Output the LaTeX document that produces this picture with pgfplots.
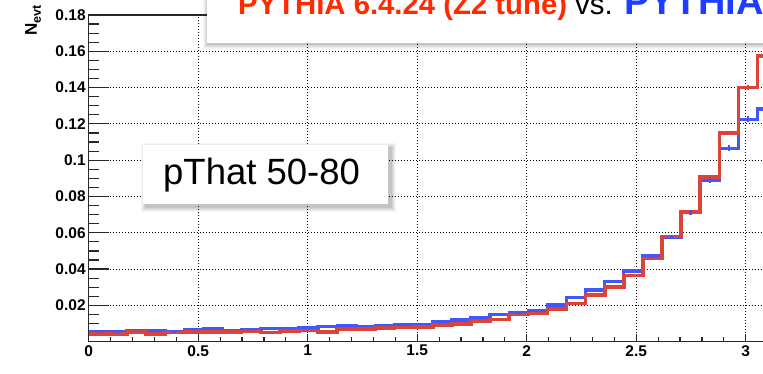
\documentclass[border=0pt]{standalone}
\usepackage{pgfplots}
\pgfplotsset{compat=1.18}
\usepackage{pgfplotstable}
\usepackage{fontspec}
\setmainfont{Liberation Sans}

\definecolor{histblue}{RGB}{66,86,252}
\definecolor{histred}{RGB}{220,68,58}
\definecolor{titlered}{RGB}{255,42,0}
\definecolor{titleblue}{RGB}{30,62,255}
\definecolor{framegray}{RGB}{40,40,40}

% Lambda distribution, 36 bins of width pi/36: left bin edge, blue and red contents
\pgfplotstableread{
x        b       r
0.00000  0.0055  0.0042
0.08727  0.0055  0.0042
0.17453  0.0063  0.0053
0.26180  0.0063  0.0042
0.34907  0.0055  0.0050
0.43633  0.0064  0.0052
0.52360  0.0070  0.0052
0.61087  0.0059  0.0052
0.69813  0.0064  0.0057
0.78540  0.0074  0.0050
0.87266  0.0074  0.0059
0.95993  0.0077  0.0061
1.04720  0.0083  0.0055
1.13446  0.0090  0.0069
1.22173  0.0085  0.0070
1.30900  0.0088  0.0074
1.39626  0.0092  0.0078
1.48353  0.0095  0.0080
1.57080  0.0110  0.0092
1.65806  0.0120  0.0097
1.74533  0.0134  0.0114
1.83260  0.0151  0.0123
1.91986  0.0161  0.0149
2.00713  0.0173  0.0155
2.09440  0.0202  0.0181
2.18166  0.0245  0.0211
2.26893  0.0285  0.0257
2.35619  0.0331  0.0303
2.44346  0.0390  0.0364
2.53073  0.0473  0.0458
2.61799  0.0577  0.0580
2.70526  0.0710  0.0716
2.79253  0.0891  0.0909
2.87979  0.1066  0.1150
2.96706  0.1225  0.1400
3.05433  0.1282  0.1574
3.14159  0.1282  0.1574
}\histdata

% bin centres with statistical errors
\pgfplotstableread{
xc       b       be      r       re
0.04363  0.0055  0.0003  0.0042  0.0003
0.13090  0.0055  0.0003  0.0042  0.0003
0.21817  0.0063  0.0003  0.0053  0.0003
0.30543  0.0063  0.0003  0.0042  0.0003
0.39270  0.0055  0.0003  0.0050  0.0003
0.47997  0.0064  0.0003  0.0052  0.0003
0.56723  0.0070  0.0003  0.0052  0.0003
0.65450  0.0059  0.0003  0.0052  0.0003
0.74176  0.0064  0.0003  0.0057  0.0003
0.82903  0.0074  0.0003  0.0050  0.0003
0.91630  0.0074  0.0003  0.0059  0.0003
1.00356  0.0077  0.0003  0.0061  0.0003
1.09083  0.0083  0.0003  0.0055  0.0003
1.17810  0.0090  0.0003  0.0069  0.0003
1.26536  0.0085  0.0003  0.0070  0.0003
1.35263  0.0088  0.0003  0.0074  0.0003
1.43990  0.0092  0.0004  0.0078  0.0003
1.52716  0.0095  0.0004  0.0080  0.0003
1.61443  0.0110  0.0004  0.0092  0.0004
1.70170  0.0120  0.0004  0.0097  0.0004
1.78896  0.0134  0.0005  0.0114  0.0004
1.87623  0.0151  0.0005  0.0123  0.0004
1.96350  0.0161  0.0006  0.0149  0.0005
2.05076  0.0173  0.0006  0.0155  0.0005
2.13803  0.0202  0.0007  0.0181  0.0005
2.22529  0.0245  0.0008  0.0211  0.0006
2.31256  0.0285  0.0008  0.0257  0.0006
2.39983  0.0331  0.0009  0.0303  0.0007
2.48709  0.0390  0.0010  0.0364  0.0007
2.57436  0.0473  0.0011  0.0458  0.0008
2.66163  0.0577  0.0012  0.0580  0.0009
2.74889  0.0710  0.0013  0.0716  0.0010
2.83616  0.0891  0.0015  0.0909  0.0011
2.92343  0.1066  0.0017  0.1150  0.0012
3.01069  0.1225  0.0016  0.1400  0.0013
3.09796  0.1282  0.0016  0.1574  0.0014
}\errdata

\begin{document}
\begin{tikzpicture}[x=1pt,y=1pt]
\useasboundingbox (0,0) rectangle (763,374);
\clip (0,0) rectangle (763,374);

% main frame, grid, y ticks and all tick labels
\begin{axis}[
  at={(88.7pt,32.3pt)}, anchor=south west,
  scale only axis, width=700.8pt, height=326.7pt,
  xmin=0, xmax=3.2, ymin=0, ymax=0.18,
  xtick={0,0.5,1,1.5,2,2.5,3},
  xticklabels={0,0.5,1,1.5,2,2.5,3},
  ytick={0,0.02,0.04,0.06,0.08,0.1,0.12,0.14,0.16,0.18},
  yticklabels={,0.02,0.04,0.06,0.08,0.1,0.12,0.14,0.16,0.18},
  minor x tick num=4, minor y tick num=3,
  tick align=inside, tick pos=left,
  major tick length=20pt, minor tick length=10pt,
  major x tick style={draw=none}, minor x tick style={draw=none},
  every tick/.style={framegray, line width=1.2pt},
  ticklabel style={font=\bfseries\fontsize{15.5}{17}\selectfont, text=black},
  yticklabel style={xshift=0.5pt},
  grid=major,
  major grid style={black, line width=0.8pt, dash pattern=on 0.9pt off 2.1pt},
  axis line style={framegray, line width=1.4pt},
  clip=true,
]
\addplot[const plot, histblue, line width=3.2pt] table[x=x, y=b] {\histdata};
\addplot[const plot, histred, line width=3.6pt] table[x=x, y=r] {\histdata};
\addplot[draw=none, mark=none, forget plot,
  error bars/.cd, y dir=both, y explicit,
  error bar style={draw=histred, line width=2pt}, error mark=none]
  table[x=xc, y=r, y error=re] {\errdata};
\addplot[draw=none, mark=none, forget plot,
  error bars/.cd, y dir=both, y explicit,
  error bar style={draw=histblue, line width=2.5pt}, error mark=none]
  table[x=xc, y=b, y error=be] {\errdata};
\end{axis}

% shorter ticks along the x axis
\begin{axis}[
  at={(88.7pt,32.3pt)}, anchor=south west,
  scale only axis, width=700.8pt, height=326.7pt,
  xmin=0, xmax=3.2, ymin=0, ymax=0.18,
  xtick={0,0.5,1,1.5,2,2.5,3}, xticklabels={},
  ytick=\empty,
  minor x tick num=4,
  tick align=inside, tick pos=left,
  major tick length=8pt, minor tick length=4.5pt,
  every tick/.style={framegray, line width=1.2pt},
  axis line style={draw=none},
]
\end{axis}

% axis titles
\node[rotate=90, inner sep=0, font=\bfseries] at (33,353.5)
  {{\fontsize{17}{19}\selectfont N}\raisebox{-4pt}{\fontsize{12.5}{14}\selectfont evt}};
\node[inner sep=0, font=\fontsize{14}{16}\selectfont] at (756,368.5) {Λ};

% title pave with soft shadow
\foreach \s/\o in {5/0.035,4/0.04,3/0.05,2/0.06,1/0.07}
  \fill[black, opacity=\o] (207-\s+1,331-\s-1) rectangle (800,390);
\fill[white] (207,331) rectangle (800,390);
\node[anchor=base west, inner sep=0] at (238,359)
  {\fontsize{29.3}{32}\selectfont\textbf{\color{titlered}PYTHIA 6.4.24 (Z2 tune)} vs.};
\node[anchor=base west, inner sep=0] at (624,359)
  {\fontsize{38}{40}\selectfont\textbf{\color{titleblue}PYTHIA 8}};

% pThat label pave with soft shadow
\foreach \s/\o in {5/0.035,4/0.04,3/0.05,2/0.06,1/0.07}
  \fill[black, opacity=\o] (143-\s+3,170-\s-3) rectangle (388+\s+3,229+\s-3);
\fill[white] (143,170) rectangle (388,229);
\node[anchor=base west, inner sep=0] at (163,189)
  {\fontsize{36.5}{40}\selectfont pThat 50-80};
\end{tikzpicture}
\end{document}
